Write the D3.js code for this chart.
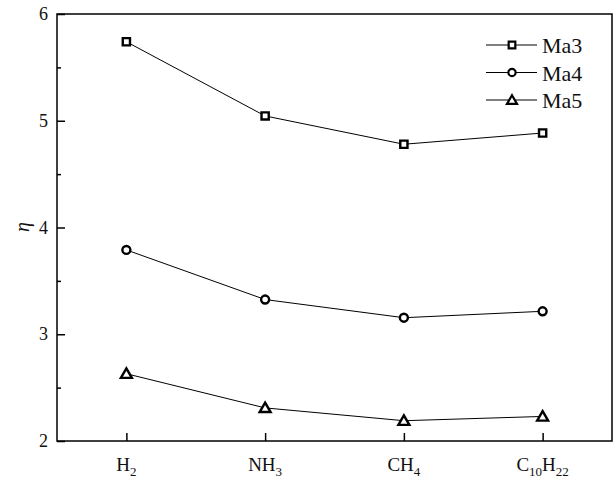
<!DOCTYPE html>
<html>
<head>
<meta charset="utf-8">
<script src="https://cdn.jsdelivr.net/npm/d3@7"></script>
<style>
  html, body { margin: 0; padding: 0; background: #fff; }
  svg { display: block; }
  svg text { font-family: "Liberation Serif", "Times New Roman", "DejaVu Serif", serif; }
</style>
</head>
<body>
<svg id="chart" width="616" height="484"></svg>
<script>
// Fuels on the x axis: base symbol plus subscript parts
const fuels = ["H2", "NH3", "CH4", "C10H22"];
const fuelParts = [
  [["H", false], ["2", true]],
  [["NH", false], ["3", true]],
  [["CH", false], ["4", true]],
  [["C", false], ["10", true], ["H", false], ["22", true]]
];
const seriesNames = ["Ma3", "Ma4", "Ma5"];
const ma3 = [5.74, 5.045, 4.78, 4.885];
const ma4 = [3.79, 3.325, 3.155, 3.215];
const ma5 = [2.63, 2.31, 2.19, 2.23];
const yTicks = [2, 3, 4, 5, 6];
const yMinorTicks = [2.5, 3.5, 4.5, 5.5];

const FONT = "'Liberation Serif', 'Times New Roman', serif";

const series = [
  { name: seriesNames[0], values: ma3, symbol: d3.symbolSquare, size: 52, dy: 0 },
  { name: seriesNames[1], values: ma4, symbol: d3.symbolCircle, size: 50, dy: 0 },
  { name: seriesNames[2], values: ma5, symbol: d3.symbolTriangle, size: 52, dy: 1 }
];

const svg = d3.select("#chart");
const margin = { left: 57, right: 4, top: 14, bottom: 43 };
const W = 616, H = 484;

const x = d3.scalePoint().domain(fuels).range([margin.left, W - margin.right]).padding(0.5);
const y = d3.scaleLinear().domain([2, 6]).range([H - margin.bottom, margin.top]);

const axisColor = "#000";

// Frame
svg.append("rect")
  .attr("x", margin.left).attr("y", margin.top)
  .attr("width", W - margin.right - margin.left)
  .attr("height", H - margin.bottom - margin.top)
  .attr("fill", "none").attr("stroke", axisColor).attr("stroke-width", 1.5);

// Y axis, ticks pointing inward
const yAxis = svg.append("g")
  .attr("transform", `translate(${margin.left},0)`)
  .call(d3.axisRight(y).tickValues(yTicks).tickSize(8).tickFormat(""));
yAxis.select(".domain").remove();
yAxis.selectAll("line").attr("stroke", axisColor).attr("stroke-width", 1.5);

const yMinor = svg.append("g")
  .attr("transform", `translate(${margin.left},0)`)
  .call(d3.axisRight(y).tickValues(yMinorTicks).tickSize(4).tickFormat(""));
yMinor.select(".domain").remove();
yMinor.selectAll("line").attr("stroke", axisColor).attr("stroke-width", 1.5);

svg.append("g").selectAll("text")
  .data(yTicks).join("text")
  .attr("x", margin.left - 9).attr("y", d => y(d) + 6)
  .attr("text-anchor", "end")
  .attr("font-family", FONT)
  .attr("font-size", 18).attr("fill", "#111")
  .text(d => d);

// X axis, ticks pointing inward
const xAxis = svg.append("g")
  .attr("transform", `translate(0,${H - margin.bottom})`)
  .call(d3.axisTop(x).tickSize(8).tickFormat(""));
xAxis.select(".domain").remove();
xAxis.selectAll("line").attr("stroke", axisColor).attr("stroke-width", 1.5);

// Category labels with subscripts
const xl = svg.append("g").selectAll("text")
  .data(fuels).join("text")
  .attr("x", d => x(d)).attr("y", 471)
  .attr("text-anchor", "middle")
  .attr("font-family", FONT)
  .attr("font-size", 19).attr("fill", "#111");
xl.each(function(d, i) {
  const t = d3.select(this);
  let shifted = false;
  fuelParts[i].forEach(([s, sub]) => {
    const ts = t.append("tspan").text(s);
    if (sub) { ts.attr("font-size", 13).attr("dy", 5); shifted = true; }
    else if (shifted) { ts.attr("dy", -5); shifted = false; }
  });
});

// Y axis title
svg.append("text")
  .attr("transform", `translate(29,227) rotate(-90)`)
  .attr("text-anchor", "middle")
  .attr("font-family", FONT)
  .attr("font-size", 20).attr("font-style", "italic").attr("fill", "#111")
  .text("η");

// Series lines and markers
const line = d3.line().x((d, i) => x(fuels[i])).y(d => y(d));
series.forEach(s => {
  svg.append("path")
    .datum(s.values)
    .attr("d", line)
    .attr("fill", "none").attr("stroke", "#000").attr("stroke-width", 1);
});
series.forEach(s => {
  svg.append("g").selectAll("path")
    .data(s.values).join("path")
    .attr("transform", (d, i) => `translate(${x(fuels[i])},${y(d) + s.dy})`)
    .attr("d", d3.symbol(s.symbol, s.size))
    .attr("fill", "#fff").attr("stroke", "#000").attr("stroke-width", 2.4);
});

// Legend
const legend = svg.append("g");
series.forEach((s, i) => {
  const ly = 45 + i * 27.5;
  legend.append("line")
    .attr("x1", 486).attr("x2", 537).attr("y1", ly).attr("y2", ly)
    .attr("stroke", "#000").attr("stroke-width", 1);
  legend.append("path")
    .attr("transform", `translate(512,${ly + s.dy})`)
    .attr("d", d3.symbol(s.symbol, s.size - 8))
    .attr("fill", "#fff").attr("stroke", "#000").attr("stroke-width", 2.2);
  legend.append("text")
    .attr("x", 542).attr("y", ly + 8)
    .attr("font-family", FONT)
    .attr("font-size", 22).attr("fill", "#111")
    .text(s.name);
});
</script>
</body>
</html>
